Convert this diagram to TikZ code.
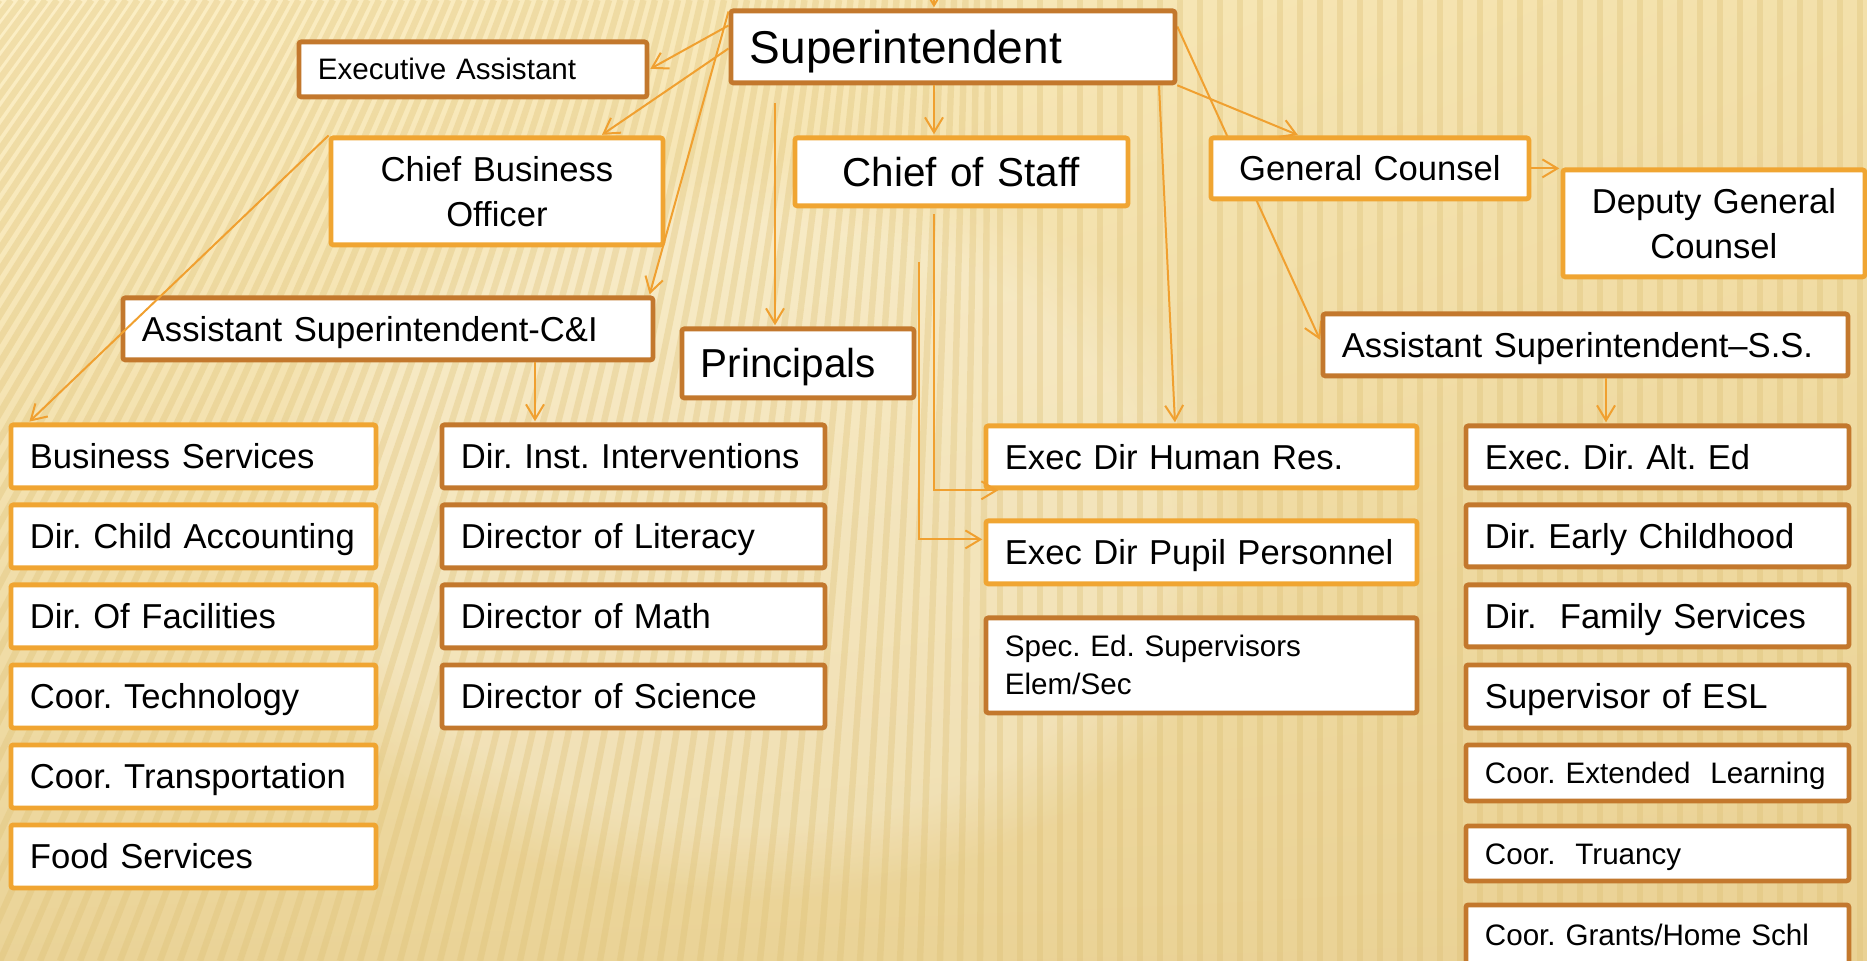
\documentclass[tikz,border=0pt]{standalone}
\usepackage{fontspec}
\setmainfont{Liberation Sans}
\usetikzlibrary{arrows.meta,calc,fadings,shadings}
\frenchspacing

\definecolor{boxbrown}{HTML}{C3782D}
\definecolor{boxorange}{HTML}{F0A532}
\definecolor{linkorange}{HTML}{F0A030}
\definecolor{bgul}{HTML}{FCEFC6}
\definecolor{bgur}{HTML}{F3E0AA}
\definecolor{bgll}{HTML}{EAD397}
\definecolor{bglr}{HTML}{EAD295}
\definecolor{stripe}{HTML}{DDBF72}

\pgfdeclarelayer{bg}
\pgfdeclarelayer{under}
\pgfsetlayers{bg,under,main}

% type sizes
\newcommand\fSup{\fontsize{23}{28}\selectfont}
\newcommand\fBig{\fontsize{20.2}{24}\selectfont}
\newcommand\fMid{\fontsize{17.3}{22.5}\selectfont}
\newcommand\fSml{\fontsize{14.8}{19}\selectfont}

\tikzset{
  orgnode/.style={rectangle, fill=white, line width=2.4pt, inner xsep=9.5pt,
    inner ysep=1pt, align=left, rounded corners=1.2pt, text=black},
  brownbox/.style={orgnode, draw=boxbrown},
  orangebox/.style={orgnode, draw=boxorange},
  tSup/.style={font=\fSup, text height=16.5pt, text depth=0pt},
  tBig/.style={font=\fBig, text height=14.5pt, text depth=0pt},
  tMid/.style={font=\fMid, text height=12.4pt, text depth=0pt},
  tSml/.style={font=\fSml, text height=10.6pt, text depth=0pt},
  mMid/.style={font=\fMid},
  mSml/.style={font=\fSml},
  link/.style={draw=linkorange, line width=1pt, shorten >=0.6pt,
    -{Straight Barb[length=7.5pt,width=9pt]}},
  stripeline/.style={draw=stripe, line width=3.2pt, opacity=0.33},
}

% box given by its outer corners (x1,y1)-(x2,y2), in pixels
\newcommand{\orgbox}[8]{%
  \pgfmathsetmacro\obX{#3+2.5}%
  \pgfmathsetmacro\obY{#4+2.5}%
  \pgfmathsetmacro\obW{(#5-#3-5)/2}%
  \pgfmathsetmacro\obH{(#6-#4-5)/2}%
  \pgfmathsetmacro\obT{\obW-19}%
  \node[#2, anchor=north west, minimum width=\obW pt, minimum height=\obH pt,
        text width=\obT pt, #7] (#1) at (\obX,\obY) {#8};%
}

\begin{document}
\begin{tikzpicture}[x=0.5pt, y=-0.5pt]
\useasboundingbox (0,0) rectangle (1867,961);

% pleated background
\begin{pgfonlayer}{bg}
  \shade[upper left=bgul, upper right=bgur, lower left=bgll, lower right=bglr]
    (0,0) rectangle (1867,961);
  \fill[white, opacity=0.25, path fading=circle with fuzzy edge 20 percent]
    (250,150) rectangle (1250,900);
  \begin{scope}
    \clip (0,0) rectangle (1867,961);
    \foreach \b in {-780,-760,...,1880}{
      \pgfmathsetmacro\stT{(\b)<1000 ? (\b)+0.425*(1000-(\b)) : (\b)}
      \draw[stripeline] (\stT,0) -- (\b,961);
    }
  \end{scope}
\end{pgfonlayer}

\clip (0,0) rectangle (1867,961);

% top level
\orgbox{supt}{brownbox}{726}{6}{1175}{83}{tSup}{Superintendent}
\orgbox{ea}{brownbox}{294}{37}{647}{97}{tSml}{Executive Assistant}
\orgbox{cbo}{orangebox}{326}{133}{663}{245}{mMid, align=center}{Chief Business\\Officer}
\orgbox{cos}{orangebox}{790}{133}{1128}{206}{tBig, align=center}{Chief of Staff}
\orgbox{gc}{orangebox}{1206}{133}{1529}{199}{tMid, align=center}{General Counsel}
\orgbox{dgc}{orangebox}{1558}{165}{1865}{277}{mMid, align=center}{Deputy General\\Counsel}
\orgbox{aiss}{brownbox}{1318}{309}{1848}{376}{tMid}{Assistant Superintendent\textendash S.S.}
\orgbox{aci}{brownbox}{118}{293}{653}{360}{tMid}{Assistant Superintendent-C\&I}
\orgbox{prin}{brownbox}{677}{324}{914}{398}{tBig}{Principals}

% business column
\orgbox{bs}{orangebox}{6}{420}{376}{488}{tMid}{Business Services}
\orgbox{dca}{orangebox}{6}{500}{376}{568}{tMid}{Dir. Child Accounting}
\orgbox{dof}{orangebox}{6}{580}{376}{648}{tMid}{Dir. Of Facilities}
\orgbox{ctech}{orangebox}{6}{660}{376}{728}{tMid}{Coor. Technology}
\orgbox{ctrans}{orangebox}{6}{740}{376}{808}{tMid}{Coor. Transportation}
\orgbox{food}{orangebox}{6}{820}{376}{888}{tMid}{Food Services}

% curriculum column
\orgbox{dii}{brownbox}{437}{420}{825}{488}{tMid}{Dir. Inst. Interventions}
\orgbox{dlit}{brownbox}{437}{500}{825}{568}{tMid}{Director of Literacy}
\orgbox{dmath}{brownbox}{437}{580}{825}{648}{tMid}{Director of Math}
\orgbox{dsci}{brownbox}{437}{660}{825}{728}{tMid}{Director of Science}

% staff column
\orgbox{hr}{orangebox}{981}{421}{1417}{488}{tMid}{Exec Dir Human Res.}
\orgbox{pupil}{orangebox}{981}{516}{1417}{584}{tMid}{Exec Dir Pupil Personnel}
\orgbox{sped}{brownbox}{981}{613}{1417}{713}{mSml}{Spec. Ed. Supervisors\\Elem/Sec}

% student services column
\orgbox{alted}{brownbox}{1461}{421}{1849}{488}{tMid}{Exec. Dir. Alt. Ed}
\orgbox{early}{brownbox}{1461}{500}{1849}{567}{tMid}{Dir. Early Childhood}
\orgbox{family}{brownbox}{1461}{580}{1849}{647}{tMid}{Dir.\ \ Family Services}
\orgbox{esl}{brownbox}{1461}{660}{1849}{728}{tMid}{Supervisor of ESL}
\orgbox{extl}{brownbox}{1461}{740}{1849}{801}{tSml}{Coor. Extended\ \ Learning}
\orgbox{truancy}{brownbox}{1461}{821}{1849}{881}{tSml}{Coor.\ \ Truancy}
\orgbox{grants}{brownbox}{1461}{900}{1849}{964}{tSml}{Coor. Grants/Home Schl}

% line running behind General Counsel
\begin{pgfonlayer}{under}
  \draw[link] ([yshift=-9pt]supt.north east) -- ([yshift=2pt]aiss.west);
\end{pgfonlayer}

% connectors
\coordinate (topin) at (934,-4);
\draw[link] (topin) -- (topin |- supt.north);
\draw[link] ([yshift=-8.5pt]supt.north west) -- (ea.east);
\draw[link] ([yshift=-20pt]supt.north west) -- (cbo.north -| 601,0);
\draw[link] ([yshift=-1.5pt]supt.north west) -- ([xshift=-3pt]aci.north east);
\draw[link] (cbo.north west) -- ([xshift=10pt]bs.north west);
\draw[link] (supt.south -| 934,0) -- (cos.north -| 934,0);
\coordinate (pstart) at (775,103);
\draw[link] (pstart) -- (pstart |- prin.north);
\coordinate (cosdrop) at (934,214);
\draw[link] (cosdrop) |- ([xshift=8pt]hr.south west);
\coordinate (pdrop) at (919,262);
\draw[link] (pdrop) |- ([yshift=6.5pt]pupil.west);
\draw[link] (supt.south -| 1159,0) -- (hr.north -| 1175,0);
\draw[link] (supt.south east) -- (gc.north -| 1299,0);
\draw[link] (gc.east) -- (dgc.west |- gc.east);
\draw[link] (aiss.south -| 1606,0) -- (alted.north -| 1606,0);
\draw[link] (aci.south -| 535,0) -- (dii.north -| 535,0);
\end{tikzpicture}
\end{document}
